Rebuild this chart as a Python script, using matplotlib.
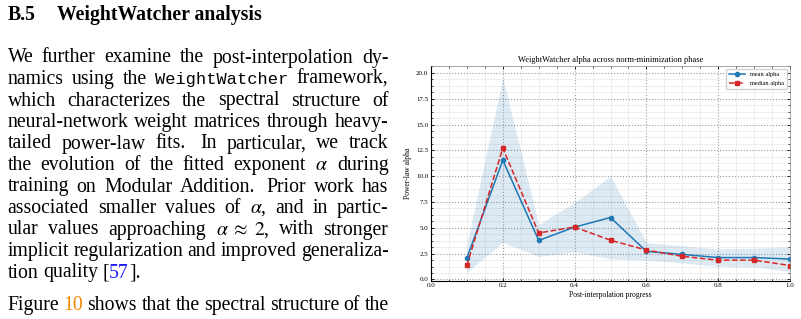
import re
import matplotlib
matplotlib.use("Agg")
import matplotlib.pyplot as plt
from matplotlib.transforms import IdentityTransform
from matplotlib.ticker import AutoMinorLocator, MultipleLocator

plt.rcParams['font.family'] = ['Liberation Serif', 'DejaVu Serif']
plt.rcParams['mathtext.fontset'] = 'stix'

# chart data
progress = [0.1, 0.2, 0.3, 0.4, 0.5, 0.6, 0.7, 0.8, 0.9, 1.0]
mean_alpha = [2.08, 11.55, 3.78, 5.07, 6.00, 2.72, 2.43, 2.12, 2.12, 1.98]
median_alpha = [1.37, 12.72, 4.50, 5.08, 3.80, 2.85, 2.24, 1.87, 1.87, 1.35]
alpha_std = [1.37, 7.95, 1.55, 2.40, 4.00, 0.85, 0.83, 0.85, 0.90, 1.20]

# page text
heading_num = "B.5"
heading = "WeightWatcher analysis"
body_lines = [
    "We further examine the post-interpolation dy-",
    "namics using the WeightWatcher framework,",
    "which characterizes the spectral structure of",
    "neural-network weight matrices through heavy-",
    "tailed power-law fits. In particular, we track",
    r"the evolution of the fitted exponent $\alpha$ during",
    "training on Modular Addition. Prior work has",
    r"associated smaller values of $\alpha$, and in partic-",
    r"ular values approaching $\alpha\;\approx\;2$, with stronger",
    "implicit regularization and improved generaliza-",
    "tion quality [57].",
    "Figure 10 shows that the spectral structure of the",
]
ragged = {10}  # last line of a paragraph is not justified
special = {
    "WeightWatcher": [("WeightWatcher", "black", "Liberation Mono")],
    "[57].": [("[", "black", None), ("57", "#1a1aff", None), ("].", "black", None)],
    "10": [("10", "#f08a00", None)],
}

W, H = 801, 319
fig = plt.figure(figsize=(W / 100, H / 100), dpi=100)
renderer = fig.canvas.get_renderer()
FS = 14.2


def put_line(y, line, justify=True):
    x0, x1 = 7.5, 388.5
    words = re.findall(r'(?:\$[^$]*\$|\S)+', line)
    groups = []
    for w in words:
        pieces = special.get(w, [(w, "black", None)])
        arts = []
        for txt, col, fam in pieces:
            if fam:
                t = fig.text(0, 0, txt, transform=IdentityTransform(), color=col,
                             fontsize=FS * 0.86, family=fam, va='baseline')
            else:
                t = fig.text(0, 0, txt, transform=IdentityTransform(), color=col,
                             fontsize=FS, va='baseline')
            arts.append((t, t.get_window_extent(renderer).width))
        groups.append(arts)
    widths = [sum(a[1] for a in g) for g in groups]
    gaps = [1.5 if words[i].endswith('.') else 1.0 for i in range(len(words) - 1)]
    if justify and len(groups) > 1:
        unit = (x1 - x0 - sum(widths)) / sum(gaps)
    else:
        unit = 4.6
    x = x0
    for i, g in enumerate(groups):
        xx = x
        for t, w in g:
            t.set_position((xx, H - y))
            xx += w
        x += widths[i] + (gaps[i] * unit if i < len(gaps) else 0)


# heading
fig.text(7.3, H - 20, heading_num, transform=IdentityTransform(), fontsize=FS,
         fontweight='bold', va='baseline')
fig.text(56.7, H - 20, heading, transform=IdentityTransform(), fontsize=FS,
         fontweight='bold', va='baseline')

baselines = [62.5 + 21.5 * i for i in range(11)] + [310]
for i, (ln, yb) in enumerate(zip(body_lines, baselines)):
    put_line(yb, ln, justify=i not in ragged)

# chart
ax = fig.add_axes([431 / W, (H - 280.5) / H, 359 / W, 214.8 / H])
lo = [m - s for m, s in zip(mean_alpha, alpha_std)]
hi = [m + s for m, s in zip(mean_alpha, alpha_std)]
ax.fill_between(progress, lo, hi, color='#1f77b4', alpha=0.15, lw=0)
ax.plot(progress, mean_alpha, '-o', color='#1f77b4', lw=1.1, ms=3, label='mean alpha')
ax.plot(progress, median_alpha, '--s', color='#d62728', lw=1.1, ms=3, label='median alpha')

ax.set_xlim(0, 1.0)
ax.set_ylim(-0.1, 20.7)
ax.xaxis.set_major_locator(MultipleLocator(0.2))
ax.yaxis.set_major_locator(MultipleLocator(2.5))
ax.xaxis.set_minor_locator(AutoMinorLocator(4))
ax.yaxis.set_minor_locator(AutoMinorLocator(4))
ax.xaxis.set_major_formatter(lambda v, p: f"{v:.1f}")
ax.yaxis.set_major_formatter(lambda v, p: f"{v:.1f}")
ax.tick_params(which='both', direction='in', top=True, right=True, labelsize=5, pad=2)
ax.tick_params(which='major', length=2.5, width=0.6)
ax.tick_params(which='minor', length=1.3, width=0.5)
ax.grid(which='major', color='#9a9a9a', ls=':', lw=0.8)
ax.grid(which='minor', color='#e8e8e8', ls='-', lw=0.5)
ax.set_axisbelow(True)
for side in ['left', 'bottom']:
    ax.spines[side].set_linewidth(0.8)
for side in ['top', 'right']:
    ax.spines[side].set_linewidth(0.5)
    ax.spines[side].set_color('#888888')

ax.set_title('WeightWatcher alpha across norm-minimization phase', fontsize=6, pad=3)
ax.set_xlabel('Post-interpolation progress', fontsize=5.5, labelpad=2)
ax.set_ylabel('Power-law alpha', fontsize=5.5, labelpad=3)
ax.legend(loc='upper right', fontsize=4.5, frameon=True, fancybox=True,
          framealpha=0.9, borderpad=0.5, handlelength=2.5)

fig.savefig('out.png', dpi=100)
